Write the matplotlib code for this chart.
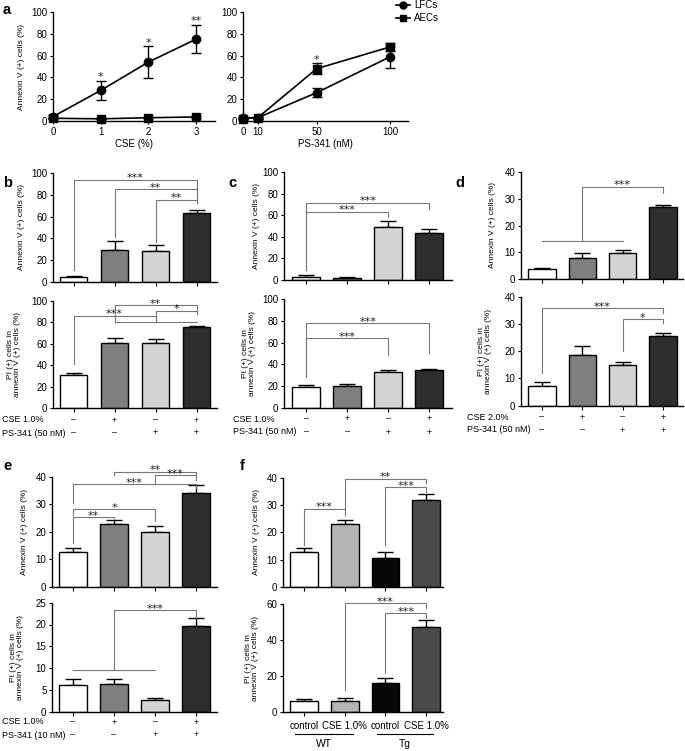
import matplotlib
matplotlib.use('Agg')
import matplotlib.pyplot as plt
import matplotlib.transforms as mtrans
from matplotlib.lines import Line2D
import numpy as np

plt.rcParams['font.family'] = ['Liberation Sans', 'DejaVu Sans']

# ---------------- data ----------------
a_cse_x = [0, 1, 2, 3]
a_cse_lfc = [4, 28, 54, 75]
a_cse_lfc_err = [1.5, 9, 14.5, 13]
a_cse_aec = [2.5, 2, 3, 3.7]
a_cse_aec_err = [0.5, 0.5, 0.5, 0.5]
a_cse_stars = ['', '*', '*', '**']

a_ps_x = [0, 10, 50, 100]
a_ps_lfc = [3, 3, 26, 59]
a_ps_lfc_err = [1, 1, 4, 10]
a_ps_aec = [2, 3, 48, 68]
a_ps_aec_err = [1, 1, 5, 4]
a_ps_stars = ['', '', '*', '']

b_top = [5, 29.5, 28.5, 63]
b_top_err = [0.8, 8.5, 5.5, 3.5]
b_bot = [30.5, 61, 60.7, 75.7]
b_bot_err = [2, 4.4, 4.1, 1.2]

c_top = [3, 2, 49, 43.5]
c_top_err = [1.5, 1, 6, 3.5]
c_bot = [19, 19.8, 33, 34.5]
c_bot_err = [2.3, 2.2, 1.8, 0.9]

d_top = [3.6, 7.8, 9.6, 27]
d_top_err = [0.6, 1.8, 1.2, 0.5]
d_bot = [7.4, 18.5, 14.9, 25.4]
d_bot_err = [1.2, 3.3, 1.1, 1.2]

e_top = [12.7, 22.8, 20, 34]
e_top_err = [1.4, 1.6, 2, 3]
e_bot = [6.1, 6.3, 2.7, 19.6]
e_bot_err = [1.3, 1.3, 0.5, 1.8]

f_top = [12.7, 23, 10.5, 32]
f_top_err = [1.5, 1.4, 2.1, 2.1]
f_bot = [6, 6.3, 16, 47]
f_bot_err = [1.4, 1.4, 3.2, 4]
f_labels = ['control', 'CSE 1.0%', 'control', 'CSE 1.0%']
f_groups = ['WT', 'Tg']

cse_row = ['–', '+', '–', '+']
ps_row = ['–', '–', '+', '+']

colors_bcde = ['white', '#7f7f7f', '#d4d4d4', '#2e2e2e']
colors_f = ['white', '#b4b4b4', '#080808', '#4a4a4a']

# ---------------- helpers ----------------
W, H = 685, 751
fig = plt.figure(figsize=(6.85, 7.51), dpi=100)
BR = '#777777'
FS = 7
RFS = 6.5


def ftext(x, y, s, **kw):
    return fig.text(x / W, 1 - y / H, s, **kw)


def make_ax(l, r, b, t, xlim, ylim):
    ax = fig.add_axes([l / W, 1 - b / H, (r - l) / W, (b - t) / H])
    ax.set_xlim(*xlim)
    ax.set_ylim(*ylim)
    for s in ['top', 'right']:
        ax.spines[s].set_visible(False)
    for s in ['left', 'bottom']:
        ax.spines[s].set_linewidth(1.0)
    ax.tick_params(labelsize=FS, length=2.5, width=0.8, pad=1.5)
    return ax


def ylab(ax, x, s):
    bb = ax.get_position()
    yc = (1 - (bb.y0 + bb.height / 2)) * H
    ftext(x, yc, s, rotation=90, ha='center', va='center', fontsize=6,
          linespacing=1.0)


def bars(ax, vals, errs, colors):
    x = np.arange(len(vals))
    ax.errorbar(x, vals, yerr=[np.zeros(len(vals)), errs], fmt='none',
                ecolor='black', elinewidth=1.0, capsize=6, capthick=1.0,
                zorder=1)
    ax.bar(x, vals, width=0.68, color=colors, edgecolor='black',
           linewidth=1.0, zorder=2)
    ax.set_xticks(x)
    ax.set_xticklabels([])
    ax.tick_params(axis='x', length=3)


def star(ax, x, y, s):
    tr = mtrans.offset_copy(ax.transData, fig=fig, x=0, y=-2.5, units='points')
    ax.text(x, y, s, ha='center', va='bottom', fontsize=8, color='#222222',
            family='DejaVu Sans', transform=tr, clip_on=False)


def bracket(ax, x1, x2, y, d1, d2, s):
    ax.plot([x1, x1, x2, x2], [d1, y, y, d2], color=BR, lw=0.8,
            clip_on=False, zorder=3)
    star(ax, (x1 + x2) / 2, y, s)


def hline(ax, x1, x2, y):
    ax.plot([x1, x2], [y, y], color=BR, lw=0.8, clip_on=False, zorder=3)


def rows(ax, lx, y1, y2, lab1, lab2):
    ftext(lx, y1, lab1, ha='left', va='center', fontsize=RFS)
    ftext(lx, y2, lab2, ha='left', va='center', fontsize=RFS)
    tr = mtrans.blended_transform_factory(ax.transData, fig.transFigure)
    for i in range(4):
        ax.text(i, 1 - y1 / H, cse_row[i], transform=tr, ha='center',
                va='center', fontsize=RFS)
        ax.text(i, 1 - y2 / H, ps_row[i], transform=tr, ha='center',
                va='center', fontsize=RFS)


# ---------------- panel a ----------------
axa1 = make_ax(53, 215, 121, 12, (0, 3.4), (0, 100))
axa1.set_yticks(range(0, 101, 20))
axa1.set_xticks(a_cse_x)
for yv, ev, mk in [(a_cse_lfc, a_cse_lfc_err, 'o'), (a_cse_aec, a_cse_aec_err, 's')]:
    axa1.errorbar(a_cse_x, yv, yerr=ev, color='black', marker=mk, ms=6,
                  lw=1.2, elinewidth=1.0, capsize=3.5, capthick=1.0,
                  clip_on=False, zorder=3)
for xv, yv, ev, s in zip(a_cse_x, a_cse_lfc, a_cse_lfc_err, a_cse_stars):
    if s:
        star(axa1, xv, yv + ev + 2, s)
ylab(axa1, 22, 'Annexin V (+) cells (%)')
ftext(134, 144, 'CSE (%)', ha='center', va='center', fontsize=FS)

axa2 = make_ax(243, 408, 121, 12, (0, 112), (0, 100))
axa2.set_yticks(range(0, 101, 20))
axa2.set_xticks(a_ps_x)
hl = []
for yv, ev, mk, lab in [(a_ps_lfc, a_ps_lfc_err, 'o', 'LFCs'),
                        (a_ps_aec, a_ps_aec_err, 's', 'AECs')]:
    axa2.errorbar(a_ps_x, yv, yerr=ev, color='black', marker=mk, ms=6,
                  lw=1.2, elinewidth=1.0, capsize=3.5, capthick=1.0,
                  clip_on=False, zorder=3)
    hl.append(Line2D([], [], color='black', marker=mk, ms=5, lw=1.2, label=lab))
for i, s in enumerate(a_ps_stars):
    if s:
        top = max(a_ps_lfc[i] + a_ps_lfc_err[i], a_ps_aec[i] + a_ps_aec_err[i])
        star(axa2, a_ps_x[i], top + 2, s)
ftext(325, 144, 'PS-341 (nM)', ha='center', va='center', fontsize=FS)
fig.legend(handles=hl, loc='upper left', bbox_to_anchor=(396 / W, 1 - 0 / H),
           frameon=False, fontsize=FS, handlelength=1.4, handletextpad=0.5,
           labelspacing=0.3, borderpad=0, borderaxespad=0)

# ---------------- panel b ----------------
axb1 = make_ax(53, 217, 282, 173, (-0.5, 3.5), (0, 100))
axb1.set_yticks(range(0, 101, 20))
bars(axb1, b_top, b_top_err, colors_bcde)
bracket(axb1, 0, 3, 94, 11, 72.5, '***')
bracket(axb1, 1, 3, 85, 41, 72.5, '**')
bracket(axb1, 2, 3, 75.5, 37, 72.5, '**')
ylab(axb1, 22, 'Annexin V (+) cells (%)')

axb2 = make_ax(53, 217, 408, 301, (-0.5, 3.5), (0, 100))
axb2.set_yticks(range(0, 101, 20))
bars(axb2, b_bot, b_bot_err, colors_bcde)
hline(axb2, 1, 3, 80)
bracket(axb2, 1, 3, 96, 80, 92, '**')
bracket(axb2, 2, 3, 91, 80, 88, '*')
bracket(axb2, 0, 2, 86, 41, 80, '***')
ylab(axb2, 14, 'PI (+) cells in\nannexin V (+) cells (%)')
rows(axb2, 2, 420, 433, 'CSE 1.0%', 'PS-341 (50 nM)')

# ---------------- panel c ----------------
axc1 = make_ax(284, 452, 280, 172, (-0.54, 3.56), (0, 100))
axc1.set_yticks(range(0, 101, 20))
bars(axc1, c_top, c_top_err, colors_bcde)
bracket(axc1, 0, 3, 71.7, 9, 66, '***')
bracket(axc1, 0, 2, 63.4, 9, 58.5, '***')
ylab(axc1, 257, 'Annexin V (+) cells (%)')

axc2 = make_ax(284, 452, 408, 299, (-0.54, 3.56), (0, 100))
axc2.set_yticks(range(0, 101, 20))
bars(axc2, c_bot, c_bot_err, colors_bcde)
bracket(axc2, 0, 3, 77.7, 28, 50.8, '***')
bracket(axc2, 0, 2, 64, 28, 48.6, '***')
ylab(axc2, 249, 'PI (+) cells in\nannexin V (+) cells (%)')
rows(axc2, 233, 419, 432, 'CSE 1.0%', 'PS-341 (50 nM)')

# ---------------- panel d ----------------
axd1 = make_ax(521, 683, 279, 172, (-0.52, 3.5), (0, 40))
axd1.set_yticks(range(0, 41, 10))
bars(axd1, d_top, d_top_err, colors_bcde)
hline(axd1, 0, 2, 14.1)
bracket(axd1, 1, 3, 34.4, 14.1, 32, '***')
ylab(axd1, 493, 'Annexin V (+) cells (%)')

axd2 = make_ax(521, 683, 405.7, 296.7, (-0.52, 3.5), (0, 40))
axd2.set_yticks(range(0, 41, 10))
bars(axd2, d_bot, d_bot_err, colors_bcde)
bracket(axd2, 0, 3, 35.8, 12, 34, '***')
bracket(axd2, 2, 3, 31.8, 20, 30.3, '*')
ylab(axd2, 485, 'PI (+) cells in\nannexin V (+) cells (%)')
rows(axd2, 467, 417, 430, 'CSE 2.0%', 'PS-341 (50 nM)')

# ---------------- panel e ----------------
axe1 = make_ax(52, 217, 586.7, 476.7, (-0.51, 3.51), (0, 40))
axe1.set_yticks(range(0, 41, 10))
bars(axe1, e_top, e_top_err, colors_bcde)
bracket(axe1, 1, 3, 41.8, 40.8, 40.6, '**')
bracket(axe1, 2, 3, 40.6, 37.6, 38.8, '***')
bracket(axe1, 0, 3, 37.2, 30.3, 35.8, '***')
bracket(axe1, 0, 2, 28.2, 26, 23.8, '*')
bracket(axe1, 0, 1, 25.2, 16, 25.0, '**')
ylab(axe1, 25, 'Annexin V (+) cells (%)')

axe2 = make_ax(52, 217, 711.7, 602.7, (-0.51, 3.51), (0, 25))
axe2.set_yticks(range(0, 26, 5))
bars(axe2, e_bot, e_bot_err, colors_bcde)
hline(axe2, 0, 2, 9.6)
bracket(axe2, 1, 3, 23.3, 9.6, 21.6, '***')
ylab(axe2, 17, 'PI (+) cells in\nannexin V (+) cells (%)')
rows(axe2, 2, 722, 735, 'CSE 1.0%', 'PS-341 (10 nM)')

# ---------------- panel f ----------------
axf1 = make_ax(283, 443, 586.7, 478, (-0.52, 3.42), (0, 40))
axf1.set_yticks(range(0, 41, 10))
bars(axf1, f_top, f_top_err, colors_f)
bracket(axf1, 1, 3, 39.8, 26.4, 38, '**')
bracket(axf1, 2, 3, 36.6, 15.5, 35, '***')
bracket(axf1, 0, 1, 28.6, 15.5, 26.4, '***')
ylab(axf1, 257, 'Annexin V (+) cells (%)')

axf2 = make_ax(283, 443, 712.3, 604, (-0.52, 3.42), (0, 60))
axf2.set_yticks(range(0, 61, 20))
bars(axf2, f_bot, f_bot_err, colors_f)
axf2.set_xticklabels(f_labels, fontsize=FS)
axf2.tick_params(axis='x', pad=3)
bracket(axf2, 1, 3, 60.3, 12.4, 57.6, '***')
bracket(axf2, 2, 3, 54.8, 21.6, 52, '***')
ylab(axf2, 252, 'PI (+) cells in\nannexin V (+) cells (%)')
for (x1, x2), g in zip([(295, 353), (377, 433)], f_groups):
    fig.add_artist(Line2D([x1 / W, x2 / W], [1 - 734 / H, 1 - 734 / H],
                          color='black', lw=0.8))
    ftext((x1 + x2) / 2, 744, g, ha='center', va='center', fontsize=7.5)

# ---------------- panel letters ----------------
for lx, ly, s in [(3, 10, 'a'), (3, 183, 'b'), (228, 183, 'c'),
                  (455, 183, 'd'), (3, 466, 'e'), (240, 466, 'f')]:
    ftext(lx, ly, s, ha='left', va='center', fontsize=10.5, fontweight='bold')

fig.savefig('out.png', dpi=100)
